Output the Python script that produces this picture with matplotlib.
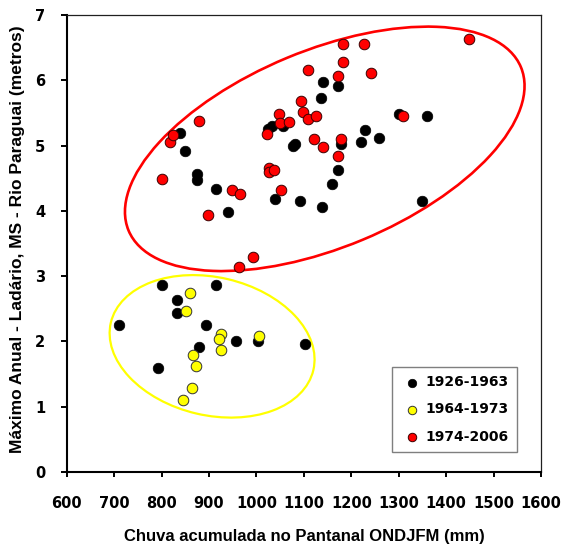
import numpy as np
import matplotlib
matplotlib.use('Agg')
import matplotlib.pyplot as plt
from matplotlib.patches import Ellipse
from matplotlib.transforms import ScaledTranslation

# chuva acumulada ONDJFM (mm) x nivel maximo anual (m)
rain_1926_1963 = [800, 915, 833, 833, 710, 894, 957, 1003, 1102, 878, 793,
                  839, 850, 874, 874, 914, 939, 1025, 1032, 1056, 1078, 1081, 1040,
                  1092, 1139, 1141, 1172, 1137, 1229, 1258, 1220, 1179, 1172, 1160,
                  1301, 1360, 1350]
level_1926_1963 = [2.87, 2.87, 2.63, 2.43, 2.25, 2.25, 2.01, 2.00, 1.96, 1.91, 1.59,
                   5.20, 4.92, 4.56, 4.47, 4.33, 3.99, 5.26, 5.30, 5.30, 5.00, 5.02, 4.18,
                   4.15, 4.06, 5.97, 5.91, 5.73, 5.24, 5.11, 5.05, 5.02, 4.62, 4.41,
                   5.49, 5.46, 4.15]

rain_1964_1973 = [859, 852, 925, 920, 1006, 926, 866, 873, 865, 846]
level_1964_1973 = [2.74, 2.47, 2.12, 2.04, 2.09, 1.87, 1.79, 1.62, 1.29, 1.11]

rain_1974_2006 = [1108, 801, 817, 825, 879, 949, 966, 898, 992, 964, 1023, 1048,
                  1050, 1068, 1093, 1098, 1108, 1125, 1122, 1141, 1027, 1027, 1037,
                  1052, 1182, 1226, 1448, 1183, 1172, 1241, 1308, 1179, 1171]
level_1974_2006 = [6.16, 4.49, 5.06, 5.16, 5.38, 4.32, 4.26, 3.94, 3.29, 3.14, 5.18, 5.49,
                   5.35, 5.36, 5.69, 5.51, 5.40, 5.45, 5.10, 4.98, 4.66, 4.60, 4.63,
                   4.32, 6.55, 6.56, 6.63, 6.28, 6.07, 6.11, 5.45, 5.10, 4.84]

x_ticks = [600, 700, 800, 900, 1000, 1100, 1200, 1300, 1400, 1500, 1600]
y_ticks = [0, 1, 2, 3, 4, 5, 6, 7]

plt.rcParams['font.family'] = ['DejaVu Sans']

fig = plt.figure(figsize=(5.63, 5.46), dpi=100)
ax = fig.add_axes([0.1185, 0.1355, 0.8425, 0.837])

# elipses de agrupamento (tamanho em polegadas, centro em dados)
red_ell = Ellipse((0, 0), 4.25, 1.97, angle=22.6, fill=False, edgecolor='#ff0000', lw=1.9,
                  transform=fig.dpi_scale_trans + ScaledTranslation(1144, 4.95, ax.transData),
                  zorder=1)
yel_ell = Ellipse((0, 0), 2.08, 1.38, angle=-13.2, fill=False, edgecolor='#ffff00', lw=1.6,
                  transform=fig.dpi_scale_trans + ScaledTranslation(906.5, 1.925, ax.transData),
                  zorder=1)
ax.add_patch(red_ell)
ax.add_patch(yel_ell)

ax.scatter(rain_1926_1963, level_1926_1963, s=58, c='black', edgecolors='black', linewidths=0.5,
           label='1926-1963', zorder=3)
ax.scatter(rain_1964_1973, level_1964_1973, s=58, c='#ffff00', edgecolors='#333333', linewidths=0.7,
           label='1964-1973', zorder=4)
ax.scatter(rain_1974_2006, level_1974_2006, s=58, c='#ff0000', edgecolors='#3a0000', linewidths=0.7,
           label='1974-2006', zorder=5)

ax.set_xlim(600, 1600)
ax.set_ylim(0, 7)
ax.set_xticks(x_ticks)
ax.set_yticks(y_ticks)

ax.spines['left'].set_linewidth(1.5)
ax.spines['bottom'].set_linewidth(1.5)
ax.spines['top'].set_linewidth(0.9)
ax.spines['right'].set_linewidth(0.9)
ax.spines['top'].set_color('#202020')
ax.spines['right'].set_color('#202020')

ax.tick_params(axis='y', direction='out', length=4.3, width=1.4, pad=11, labelsize=10.5)
ax.tick_params(axis='x', direction='out', length=3.6, width=1.4, pad=14, labelsize=10.5)
for lab in ax.get_xticklabels() + ax.get_yticklabels():
    lab.set_fontweight('bold')

ax.set_xlabel('Chuva acumulada no Pantanal ONDJFM (mm)', fontsize=12, fontweight='bold',
              family='Liberation Sans', va='center')
ax.xaxis.set_label_coords(0.5, -0.141)
ax.set_ylabel('Máximo Anual - Ladário, MS - Rio Paraguai (metros)', fontsize=12.5,
              fontweight='bold', family='Liberation Sans', va='center')
ax.yaxis.set_label_coords(-0.103, 0.51)

leg = ax.legend(loc='lower right', bbox_to_anchor=(0.949, 0.044), frameon=True, fancybox=False,
                edgecolor='#7f7f7f', framealpha=1, borderpad=0.6, labelspacing=0.95,
                handlelength=1.6, handletextpad=0.2, markerscale=0.8, borderaxespad=0,
                prop={'weight': 'bold', 'size': 10})
leg.get_frame().set_linewidth(1.0)

fig.savefig('out.png', dpi=100)
